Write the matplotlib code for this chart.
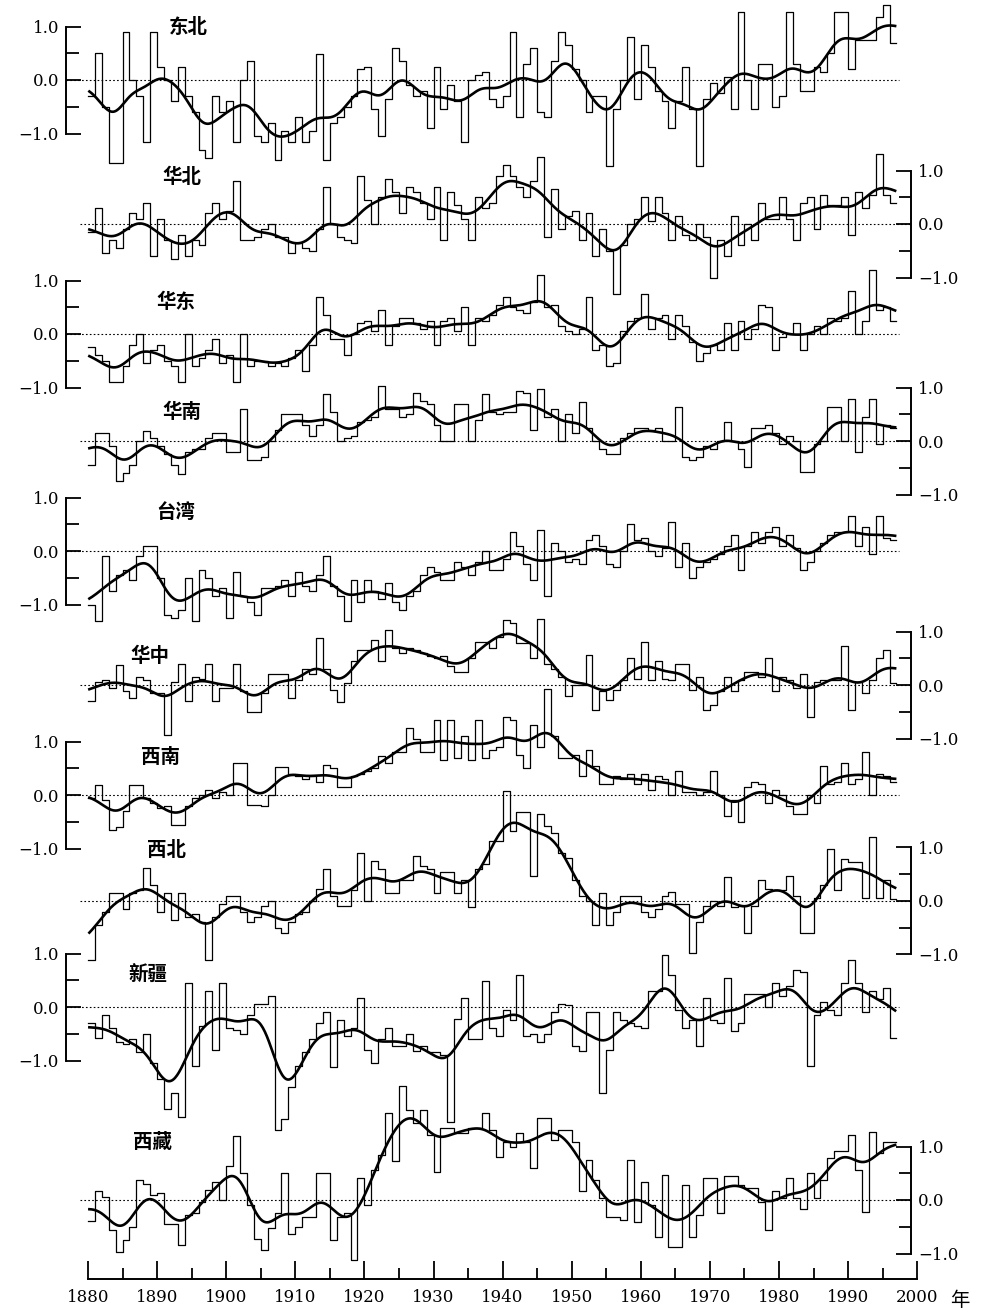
import numpy as np
import matplotlib
matplotlib.use('Agg')
import matplotlib.pyplot as plt

plt.rcParams['font.family'] = ['DejaVu Serif']

years = np.arange(1880, 1997)

# annual temperature anomalies (deg C), 1880-1996
northeast = [
    -0.3, 0.5, -0.5, -1.55, -1.55, 0.9, 0.0, -0.3, -1.15, 0.9,
    0.25, 0.0, -0.4, 0.25, -0.3, -0.6, -1.3, -1.45, -0.3, -0.6,
    -0.4, -1.15, 0.0, 0.35, -1.05, -1.15, -0.8, -1.5, -0.95, -1.15,
    -0.7, -1.15, -0.95, 0.48, -1.5, -0.8, -0.7, -0.5, -0.3, 0.2,
    0.25, -0.55, -1.05, -0.35, 0.6, 0.35, -0.1, -0.3, -0.2, -0.9,
    0.25, -0.55, -0.1, -0.4, -1.15, 0.0, 0.1, 0.15, -0.35, -0.5,
    -0.3, 0.9, -0.7, 0.3, 0.6, -0.6, -0.7, 0.35, 0.9, 0.65,
    0.2, 0.0, -0.6, -0.3, -0.3, -1.6, -0.55, 0.0, 0.8, -0.35,
    0.65, 0.25, -0.2, -0.4, -0.9, -0.4, 0.25, -0.55, -1.6, -0.35,
    -0.05, -0.25, 0.05, -0.55, 1.27, 0.0, -0.55, 0.3, 0.3, -0.5,
    -0.3, 1.27, 0.3, -0.2, -0.2, 0.25, 0.15, 0.5, 1.27, 1.27,
    0.2, 0.75, 0.75, 0.75, 1.18, 1.4, 0.7]

north = [
    -0.15, 0.3, -0.55, -0.3, -0.45, -0.1, 0.2, 0.1, 0.4, -0.6,
    0.1, -0.3, -0.65, -0.2, -0.6, -0.3, -0.4, 0.2, 0.4, 0.1,
    0.25, 0.8, -0.3, -0.3, -0.25, -0.1, 0.0, -0.25, -0.25, -0.55,
    -0.35, -0.45, -0.5, -0.1, 0.7, 0.0, -0.25, -0.3, -0.35, 0.9,
    0.45, 0.0, 0.5, 0.85, 0.6, 0.2, 0.7, 0.6, 0.4, 0.1,
    0.7, -0.3, 0.6, 0.35, 0.1, -0.3, 0.5, 0.3, 0.4, 0.9,
    1.1, 0.9, 0.7, 0.5, 0.8, 1.25, -0.25, 0.65, -0.1, 0.15,
    0.25, -0.3, 0.2, -0.6, -0.1, -0.5, -1.3, -0.4, 0.0, 0.1,
    0.5, 0.05, 0.5, 0.2, -0.3, 0.15, -0.2, -0.3, 0.0, -0.25,
    -1.0, -0.3, -0.6, 0.15, -0.4, 0.0, -0.3, 0.4, 0.1, 0.1,
    0.5, 0.1, -0.3, 0.4, 0.5, -0.1, 0.55, 0.35, 0.35, 0.5,
    -0.2, 0.6, 0.3, 0.55, 1.3, 0.55, 0.4]

east = [
    -0.25, -0.4, -0.5, -0.9, -0.9, -0.6, -0.2, 0.0, -0.55, -0.3,
    -0.2, -0.5, -0.6, -0.9, 0.0, -0.6, -0.45, -0.3, -0.1, -0.55,
    -0.4, -0.9, 0.0, -0.6, -0.5, -0.5, -0.6, -0.55, -0.6, -0.45,
    -0.3, -0.7, -0.2, 0.7, 0.35, -0.1, -0.1, -0.4, 0.0, 0.2,
    0.25, 0.05, 0.45, -0.2, 0.15, 0.3, 0.3, 0.2, 0.1, 0.25,
    -0.2, 0.25, 0.3, 0.05, 0.5, -0.2, 0.3, 0.25, 0.35, 0.55,
    0.7, 0.5, 0.45, 0.4, 0.6, 1.1, 0.5, 0.55, 0.15, 0.05,
    0.0, 0.1, 0.7, -0.3, -0.2, -0.6, -0.55, 0.05, 0.25, 0.3,
    0.75, 0.1, 0.3, 0.35, -0.1, 0.35, 0.15, -0.15, -0.5, -0.35,
    -0.2, -0.3, 0.2, -0.3, 0.25, -0.1, 0.1, 0.55, 0.5, -0.3,
    -0.05, 0.0, 0.2, -0.3, 0.0, 0.15, 0.0, 0.3, 0.25, 0.3,
    0.8, 0.0, 0.25, 1.2, 0.45, 0.5, 0.25]

south = [
    -0.45, 0.15, 0.15, -0.1, -0.74, -0.6, -0.45, 0.0, 0.18, 0.05,
    -0.1, -0.25, -0.45, -0.61, -0.2, -0.15, -0.15, 0.05, 0.15, 0.15,
    -0.2, -0.2, 0.59, -0.35, -0.35, -0.3, 0.0, 0.2, 0.5, 0.5,
    0.5, 0.3, 0.1, 0.3, 0.87, 0.55, 0.0, 0.05, 0.1, 0.35,
    0.4, 0.45, 1.03, 0.6, 0.6, 0.45, 0.5, 0.9, 0.75, 0.7,
    0.3, 0.0, 0.0, 0.7, 0.7, 0.0, 0.4, 0.87, 0.55, 0.5,
    0.55, 0.55, 0.93, 0.9, 0.2, 0.97, 0.45, 0.6, 0.0, 0.5,
    0.15, 0.73, 0.25, 0.0, -0.15, -0.25, -0.25, 0.05, 0.15, 0.25,
    0.25, 0.2, 0.25, 0.0, 0.0, 0.64, -0.3, -0.35, -0.3, -0.1,
    -0.15, 0.0, 0.35, 0.0, -0.15, -0.49, 0.25, 0.25, 0.3, 0.15,
    -0.05, 0.1, 0.0, -0.58, -0.58, -0.05, 0.0, 0.64, 0.64, 0.0,
    0.78, -0.2, 0.45, 0.78, -0.05, 0.3, 0.25]

taiwan = [
    -1.0, -1.3, -0.1, -0.75, -0.45, -0.35, -0.55, -0.1, 0.1, 0.1,
    -0.5, -1.2, -1.25, -1.1, -0.5, -1.3, -0.35, -0.5, -0.85, -0.7,
    -1.25, -0.4, -0.85, -0.95, -1.2, -0.7, -0.7, -0.65, -0.55, -0.85,
    -0.4, -0.65, -0.75, -0.45, -0.1, -0.65, -0.85, -1.3, -0.55, -0.95,
    -0.55, -0.75, -0.9, -0.6, -0.95, -1.1, -0.85, -0.75, -0.45, -0.3,
    -0.4, -0.55, -0.55, -0.2, -0.3, -0.45, -0.2, 0.0, -0.35, -0.35,
    -0.15, 0.35, 0.1, -0.25, -0.55, 0.4, -0.85, 0.15, 0.0, -0.2,
    -0.15, -0.25, 0.2, 0.3, 0.1, -0.25, -0.3, 0.0, 0.5, 0.2,
    0.25, 0.0, -0.1, 0.05, 0.55, -0.3, 0.15, -0.5, -0.3, -0.2,
    -0.15, -0.05, 0.1, 0.3, -0.35, 0.1, 0.35, 0.15, 0.35, 0.45,
    0.1, 0.3, 0.05, -0.35, -0.2, 0.0, 0.15, 0.3, 0.35, 0.35,
    0.65, 0.1, 0.45, -0.05, 0.65, 0.25, 0.2]

central = [
    -0.3, 0.05, 0.1, -0.05, 0.37, -0.12, -0.25, 0.15, 0.1, -0.15,
    -0.15, -0.94, 0.05, 0.4, -0.3, 0.15, 0.12, 0.4, -0.3, -0.05,
    -0.05, 0.4, -0.12, -0.5, -0.5, -0.15, 0.2, 0.2, 0.2, -0.25,
    0.1, 0.3, 0.2, 0.87, 0.3, -0.1, -0.31, 0.03, 0.45, 0.66,
    0.66, 0.85, 0.45, 1.03, 0.7, 0.6, 0.7, 0.65, 0.6, 0.55,
    0.5, 0.55, 0.35, 0.25, 0.25, 0.5, 0.81, 0.81, 0.7, 0.9,
    1.22, 1.15, 0.78, 0.78, 0.5, 1.23, 0.4, 0.3, 0.15, -0.2,
    0.0, 0.0, 0.56, -0.47, -0.12, -0.28, -0.1, 0.1, 0.5, 0.12,
    0.81, 0.1, 0.45, 0.12, 0.1, 0.4, 0.4, -0.1, 0.15, -0.47,
    -0.38, -0.12, 0.15, -0.12, 0.1, 0.25, 0.25, 0.15, 0.5, -0.12,
    0.15, 0.1, -0.05, 0.2, -0.59, 0.06, 0.1, 0.1, 0.1, 0.72,
    -0.47, 0.06, -0.15, 0.1, 0.5, 0.66, 0.03]

southwest = [
    -0.05, 0.19, -0.1, -0.66, -0.6, -0.3, 0.19, 0.19, -0.05, -0.15,
    -0.25, -0.2, -0.56, -0.56, -0.2, -0.05, 0.0, 0.1, -0.05, 0.05,
    0.0, 0.6, 0.6, -0.19, -0.19, -0.2, 0.0, 0.53, 0.53, 0.4,
    0.35, 0.3, 0.35, 0.25, 0.56, 0.5, 0.15, 0.15, 0.35, 0.4,
    0.45, 0.5, 0.72, 0.6, 0.81, 0.81, 1.25, 1.05, 0.81, 0.8,
    1.4, 0.66, 1.4, 0.7, 1.1, 0.65, 1.4, 0.7, 0.85, 0.9,
    1.45, 1.4, 0.75, 0.5, 1.3, 0.9, 1.98, 1.1, 0.7, 0.7,
    0.75, 0.35, 0.85, 0.55, 0.2, 0.2, 0.35, 0.3, 0.4, 0.2,
    0.4, 0.1, 0.35, 0.3, 0.0, 0.45, 0.05, 0.05, 0.0, 0.05,
    0.45, 0.0, -0.4, -0.1, -0.5, 0.15, 0.25, 0.2, -0.15, 0.1,
    0.0, -0.2, -0.35, -0.35, 0.0, -0.15, 0.55, 0.2, 0.25, 0.6,
    0.2, 0.3, 0.8, 0.0, 0.4, 0.35, 0.25]

northwest = [
    -1.1, -0.45, -0.2, 0.15, 0.15, -0.15, 0.15, 0.2, 0.62, 0.3,
    -0.2, 0.15, -0.35, 0.15, -0.3, -0.25, -0.4, -1.1, -0.3, -0.05,
    0.1, 0.1, -0.2, -0.4, -0.3, -0.1, 0.0, -0.5, -0.6, -0.4,
    -0.25, -0.2, 0.0, 0.22, 0.59, 0.1, -0.09, -0.09, 0.2, 0.9,
    0.0, 0.75, 0.6, 0.15, 0.15, 0.4, 0.4, 0.84, 0.65, 0.6,
    0.15, 0.55, 0.55, 0.15, 0.4, -0.12, 0.6, 0.7, 1.12, 1.12,
    2.06, 1.3, 1.66, 1.66, 0.47, 1.63, 1.4, 1.28, 0.9, 0.8,
    0.4, 0.1, 0.0, -0.44, 0.15, -0.44, -0.2, 0.1, 0.1, 0.1,
    -0.2, -0.3, -0.15, 0.1, 0.16, -0.05, -0.05, -0.97, -0.4, -0.1,
    0.0, -0.1, 0.44, -0.12, -0.1, -0.59, -0.1, 0.4, 0.22, 0.2,
    0.2, 0.47, 0.1, -0.6, -0.6, 0.05, 0.3, 0.97, 0.2, 0.78,
    0.72, 0.72, 0.05, 1.19, 0.05, 0.4, 0.03]

xinjiang = [
    -0.3, -0.58, -0.15, -0.4, -0.65, -0.7, -0.6, -0.85, -0.5, -1.05,
    -1.35, -1.9, -1.6, -2.05, 0.44, -1.1, -0.35, 0.29, -0.8, 0.44,
    -0.4, -0.43, -0.5, -0.15, 0.05, 0.05, 0.2, -2.3, -2.1, -1.5,
    -1.1, -0.85, -0.6, -0.3, -0.1, -1.13, -0.25, -0.55, -0.4, 0.17,
    -0.8, -1.05, -0.6, -0.4, -0.73, -0.73, -0.5, -0.82, -0.73, -0.85,
    -0.85, -0.9, -2.15, -0.23, 0.17, -0.6, -0.6, 0.48, -0.4, -0.55,
    -0.05, -0.25, 0.6, -0.55, -0.5, -0.65, -0.5, -0.1, 0.05, 0.04,
    -0.73, -0.83, -0.1, -0.1, -1.6, -0.8, -0.1, -0.25, -0.3, -0.35,
    -0.4, 0.3, 0.3, 0.98, 0.6, -0.05, -0.4, -0.25, -0.73, 0.17,
    -0.25, -0.3, 0.54, -0.45, -0.3, 0.25, 0.25, 0.25, 0.0, 0.45,
    0.2, 0.4, 0.7, 0.65, -1.1, -0.15, 0.1, -0.05, -0.15, 0.45,
    0.88, 0.45, -0.1, 0.3, 0.15, 0.35, -0.58]

tibet = [
    -0.4, 0.16, 0.06, -0.56, -0.97, -0.75, -0.5, 0.38, 0.3, 0.1,
    0.13, -0.44, -0.44, -0.84, -0.28, -0.25, -0.03, 0.19, 0.34, 0.0,
    0.63, 1.19, 0.5, -0.09, -0.72, -0.94, -0.53, -0.25, 0.5, -0.63,
    -0.5, -0.31, -0.31, 0.5, 0.5, -0.75, -0.31, -0.25, -1.13, 0.41,
    -0.09, 0.56, 0.84, 1.63, 0.72, 2.13, 1.69, 1.44, 1.69, 1.22,
    0.53, 1.34, 1.34, 1.25, 1.25, 1.34, 1.34, 1.63, 1.31, 0.81,
    1.09, 1.0, 1.25, 1.09, 0.59, 1.53, 1.53, 1.12, 1.31, 1.31,
    1.09, 0.16, 0.75, 0.38, 0.03, -0.31, -0.31, -0.38, 0.75, -0.41,
    0.34, -0.09, -0.69, 0.47, -0.87, -0.87, 0.28, -0.69, -0.28, 0.41,
    0.41, -0.25, 0.44, 0.44, 0.28, 0.22, 0.22, -0.03, -0.56, 0.16,
    0.03, 0.41, 0.03, -0.16, 0.5, 0.03, 0.38, 0.78, 0.91, 0.91,
    1.22, 0.56, -0.22, 1.28, 0.88, 1.09, 1.09]

regions = ['东北', '华北', '华东', '华南', '台湾', '华中', '西南', '西北', '新疆', '西藏']
series = [northeast, north, east, south, taiwan, central, southwest, northwest, xinjiang, tibet]
for s in series:
    assert len(s) == len(years), len(s)

# page layout in pixels
W, H = 987, 1314
X0, PX_YR = 88, 6.91        # pixel of 1880, pixels per year
UNIT = 53.5                 # pixels per degree
zero_px = [80, 224, 334, 441, 551, 685, 795, 901, 1007, 1200]
sides = ['left', 'right'] * 5
label_px = [(188, 27), (182, 177), (176, 302), (182, 412), (176, 512),
            (150, 656), (160, 757), (166, 851), (148, 975), (153, 1142)]

def px2year(px):
    return 1880 + (px - X0) / PX_YR

xlim = (px2year(0), px2year(W))
cjk = ['Noto Sans CJK SC', 'DejaVu Sans']


def smooth(vals, sigma=1.85):
    # gaussian weighted running mean of the annual values
    centers = years + 0.5
    t = np.linspace(1880.2, 1996.8, 800)
    w = np.exp(-0.5 * ((t[:, None] - centers[None, :]) / sigma) ** 2)
    return t, w @ np.asarray(vals, float) / w.sum(axis=1)


fig = plt.figure(figsize=(W / 100, H / 100), dpi=100)

for name, vals, z, side, (lx, ly) in zip(regions, series, zero_px, sides, label_px):
    ax = fig.add_axes([0, 0, 1, 1])
    ax.patch.set_visible(False)
    ax.set_xlim(*xlim)
    ax.set_ylim(-(H - z) / UNIT, z / UNIT)
    v = np.asarray(vals, float)
    ax.step(np.append(years, years[-1] + 1), np.append(v, v[-1]), where='post',
            color='black', lw=0.9)
    t, sm = smooth(v)
    ax.plot(t, sm, color='black', lw=1.9)

    for sp in ax.spines.values():
        sp.set_visible(False)
    ax.set_xticks([])
    if side == 'left':
        sp = ax.spines['left']
        sp.set_position(('data', px2year(66)))
        ax.hlines(0, px2year(66), 1997.3, colors='black', lw=0.8, linestyles=(0, (1.5, 2)))
        ax.yaxis.tick_left()
    else:
        sp = ax.spines['right']
        sp.set_position(('data', px2year(911)))
        ax.hlines(0, px2year(80), px2year(911), colors='black', lw=0.8, linestyles=(0, (1.5, 2)))
        ax.yaxis.tick_right()
    sp.set_visible(True)
    sp.set_bounds(-1, 1)
    sp.set_linewidth(1.4)
    ax.set_yticks([-1, 0, 1])
    ax.set_yticklabels(['\u22121.0', '0.0', '1.0'], fontsize=12)
    ax.set_yticks([-0.5, 0.5], minor=True)
    ax.tick_params(axis='y', which='major', direction='in', length=11, width=1.3, pad=5)
    ax.tick_params(axis='y', which='minor', direction='in', length=9, width=1.3)

    ax.text(px2year(lx), (z - ly) / UNIT, name, family=cjk, fontsize=14,
            fontweight='bold', ha='center', va='center')

# common time axis at the bottom
axb = fig.add_axes([0, 0, 1, 1])
axb.patch.set_visible(False)
axb.set_xlim(*xlim)
axb.set_ylim(H, 0)
for k, sp in axb.spines.items():
    sp.set_visible(k == 'bottom')
axb.spines['bottom'].set_position(('data', 1279))
axb.spines['bottom'].set_bounds(1880, 2000)
axb.spines['bottom'].set_linewidth(1.4)
axb.set_yticks([])
axb.set_xticks(np.arange(1880, 2001, 10))
axb.set_xticks(np.arange(1885, 2000, 10), minor=True)
axb.tick_params(axis='x', which='major', direction='in', length=13, width=1.3, pad=7, labelsize=12)
axb.tick_params(axis='x', which='minor', direction='in', length=8, width=1.3)
axb.text(px2year(960), 1300, '年', family=cjk, fontsize=14, ha='center', va='center')

fig.savefig('out.png', dpi=100)
